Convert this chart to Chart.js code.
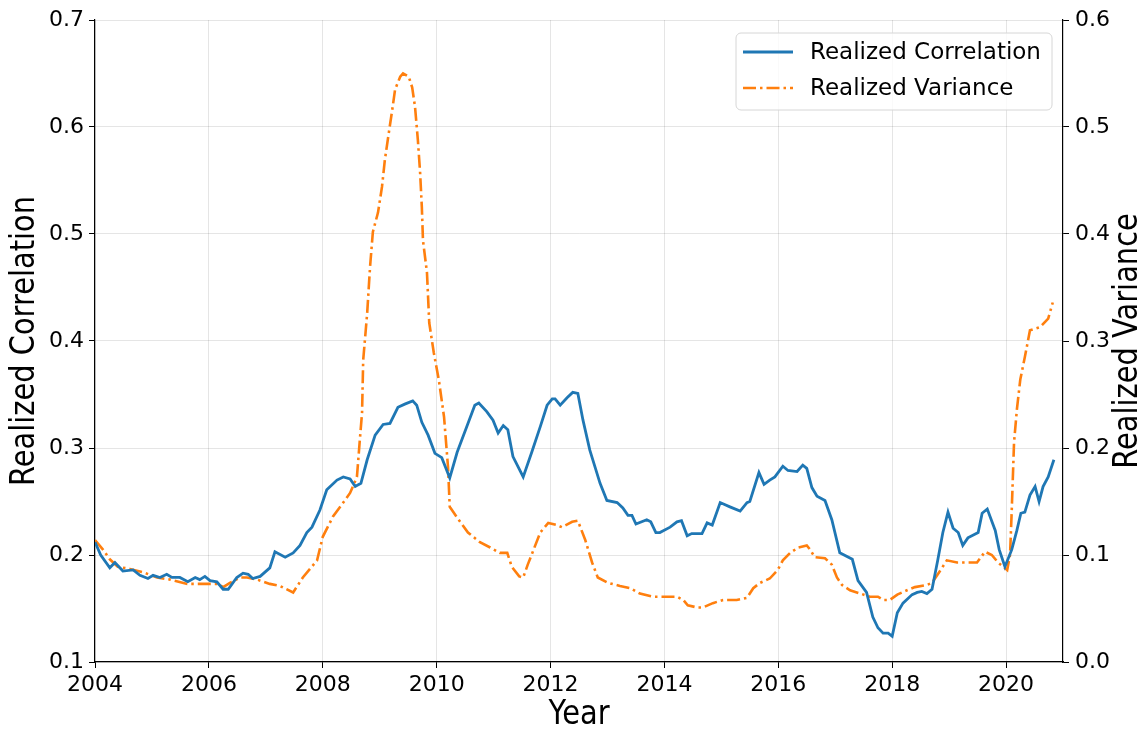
<!DOCTYPE html>
<html>
<head>
<meta charset="utf-8">
<title>Realized Correlation and Realized Variance</title>
<script src="https://cdn.jsdelivr.net/npm/chart.js@4.4.1/dist/chart.umd.min.js"></script>
<style>
  html, body { margin: 0; padding: 0; background: #fff; }
  #chart { display: block; }
</style>
</head>
<body>
<canvas id="chart" width="1146" height="732"></canvas>
<script>
// values (fractional years)
const corrYears = [
    2004.00, 2004.10, 2004.26, 2004.35, 2004.49, 2004.67, 2004.79, 2004.93, 2005.02, 2005.14,
    2005.26, 2005.35, 2005.49, 2005.63, 2005.76, 2005.84, 2005.93, 2006.02, 2006.14, 2006.25,
    2006.34, 2006.49, 2006.60, 2006.69, 2006.77, 2006.90, 2007.07, 2007.16, 2007.34, 2007.48,
    2007.60, 2007.72, 2007.81, 2007.95, 2008.07, 2008.25, 2008.36, 2008.48, 2008.57, 2008.67,
    2008.78, 2008.92, 2009.06, 2009.18, 2009.32, 2009.44, 2009.58, 2009.65, 2009.74, 2009.85,
    2009.97, 2010.09, 2010.23, 2010.36, 2010.53, 2010.67, 2010.74, 2010.88, 2010.99, 2011.08,
    2011.17, 2011.25, 2011.34, 2011.52, 2011.67, 2011.82, 2011.94, 2012.03, 2012.08, 2012.17,
    2012.29, 2012.39, 2012.48, 2012.57, 2012.69, 2012.87, 2012.99, 2013.17, 2013.27, 2013.36,
    2013.43, 2013.50, 2013.69, 2013.76, 2013.85, 2013.92, 2014.10, 2014.22, 2014.30, 2014.40,
    2014.48, 2014.66, 2014.75, 2014.84, 2014.98, 2015.15, 2015.33, 2015.45, 2015.50, 2015.66,
    2015.75, 2015.85, 2015.94, 2016.08, 2016.17, 2016.33, 2016.43, 2016.50, 2016.59, 2016.68,
    2016.82, 2016.94, 2017.08, 2017.30, 2017.40, 2017.55, 2017.66, 2017.75, 2017.84, 2017.93,
    2018.00, 2018.09, 2018.19, 2018.35, 2018.44, 2018.52, 2018.61, 2018.70, 2018.80, 2018.89,
    2018.98, 2019.07, 2019.16, 2019.24, 2019.33, 2019.51, 2019.58, 2019.67, 2019.81, 2019.88,
    2019.98, 2020.10, 2020.19, 2020.26, 2020.33, 2020.42, 2020.51, 2020.58, 2020.65, 2020.74,
    2020.84
];
const corrValues = [
    0.212, 0.200, 0.188, 0.193, 0.185, 0.186, 0.181, 0.178, 0.181, 0.179,
    0.182, 0.179, 0.179, 0.175, 0.179, 0.177, 0.180, 0.176, 0.175, 0.168,
    0.168, 0.179, 0.183, 0.182, 0.178, 0.180, 0.188, 0.203, 0.198, 0.202,
    0.209, 0.221, 0.226, 0.242, 0.261, 0.270, 0.273, 0.271, 0.264, 0.267,
    0.289, 0.312, 0.322, 0.323, 0.338, 0.341, 0.344, 0.340, 0.324, 0.312,
    0.295, 0.291, 0.272, 0.296, 0.320, 0.340, 0.342, 0.334, 0.326, 0.314,
    0.321, 0.317, 0.292, 0.273, 0.296, 0.320, 0.340, 0.346, 0.346, 0.340,
    0.347, 0.352, 0.351, 0.326, 0.298, 0.267, 0.251, 0.249, 0.244, 0.237,
    0.237, 0.229, 0.233, 0.231, 0.221, 0.221, 0.226, 0.231, 0.232, 0.218,
    0.220, 0.220, 0.230, 0.228, 0.249, 0.245, 0.241, 0.249, 0.250, 0.277,
    0.266, 0.270, 0.273, 0.283, 0.279, 0.278, 0.284, 0.281, 0.263, 0.255,
    0.251, 0.233, 0.202, 0.196, 0.176, 0.165, 0.142, 0.132, 0.127, 0.127,
    0.124, 0.146, 0.155, 0.163, 0.165, 0.166, 0.164, 0.168, 0.195, 0.221,
    0.240, 0.225, 0.221, 0.209, 0.216, 0.221, 0.239, 0.243, 0.223, 0.205,
    0.189, 0.205, 0.223, 0.239, 0.240, 0.256, 0.264, 0.250, 0.264, 0.273,
    0.289
];
const varYears = [
    2004.00, 2004.14, 2004.26, 2004.40, 2004.61, 2004.84, 2005.09, 2005.32, 2005.62, 2005.90,
    2006.16, 2006.25, 2006.37, 2006.55, 2006.67, 2006.85, 2007.07, 2007.25, 2007.48, 2007.65,
    2007.90, 2008.00, 2008.18, 2008.36, 2008.48, 2008.60, 2008.65, 2008.69, 2008.71, 2008.78,
    2008.83, 2008.88, 2008.97, 2009.04, 2009.09, 2009.15, 2009.22, 2009.27, 2009.36, 2009.41,
    2009.51, 2009.57, 2009.62, 2009.67, 2009.71, 2009.74, 2009.76, 2009.83, 2009.87, 2009.95,
    2010.04, 2010.13, 2010.20, 2010.23, 2010.36, 2010.55, 2010.76, 2010.94, 2011.11, 2011.24,
    2011.32, 2011.45, 2011.52, 2011.60, 2011.82, 2011.96, 2012.11, 2012.20, 2012.38, 2012.48,
    2012.61, 2012.73, 2012.83, 2013.01, 2013.22, 2013.40, 2013.57, 2013.80, 2013.98, 2014.22,
    2014.33, 2014.41, 2014.57, 2014.68, 2014.85, 2015.03, 2015.27, 2015.45, 2015.56, 2015.68,
    2015.85, 2015.99, 2016.08, 2016.21, 2016.35, 2016.50, 2016.56, 2016.64, 2016.82, 2016.94,
    2017.03, 2017.12, 2017.26, 2017.44, 2017.61, 2017.75, 2017.84, 2017.96, 2018.09, 2018.26,
    2018.40, 2018.61, 2018.70, 2018.79, 2018.96, 2019.14, 2019.31, 2019.49, 2019.63, 2019.75,
    2019.86, 2020.02, 2020.07, 2020.10, 2020.14, 2020.19, 2020.25, 2020.33, 2020.42, 2020.60,
    2020.74, 2020.82
];
const varValues = [
    0.114, 0.105, 0.096, 0.089, 0.087, 0.084, 0.079, 0.077, 0.073, 0.073,
    0.073, 0.070, 0.074, 0.079, 0.079, 0.077, 0.073, 0.071, 0.065, 0.079,
    0.095, 0.117, 0.136, 0.149, 0.158, 0.173, 0.207, 0.233, 0.282, 0.326,
    0.369, 0.402, 0.420, 0.444, 0.469, 0.491, 0.516, 0.535, 0.547, 0.550,
    0.547, 0.537, 0.519, 0.488, 0.457, 0.425, 0.394, 0.364, 0.317, 0.289,
    0.263, 0.229, 0.182, 0.145, 0.135, 0.121, 0.112, 0.107, 0.102, 0.102,
    0.089, 0.080, 0.079, 0.091, 0.121, 0.130, 0.128, 0.126, 0.131, 0.132,
    0.114, 0.093, 0.079, 0.074, 0.071, 0.069, 0.064, 0.061, 0.061, 0.061,
    0.058, 0.053, 0.051, 0.051, 0.055, 0.058, 0.058, 0.060, 0.069, 0.074,
    0.078, 0.086, 0.095, 0.102, 0.107, 0.109, 0.105, 0.098, 0.097, 0.091,
    0.079, 0.072, 0.067, 0.064, 0.061, 0.061, 0.058, 0.058, 0.063, 0.067,
    0.070, 0.072, 0.074, 0.081, 0.095, 0.093, 0.093, 0.093, 0.103, 0.100,
    0.093, 0.086, 0.100, 0.142, 0.205, 0.236, 0.264, 0.285, 0.310, 0.313,
    0.321, 0.336
];
const xTicks = [2004, 2006, 2008, 2010, 2012, 2014, 2016, 2018, 2020];
const corrTicks = [0.1, 0.2, 0.3, 0.4, 0.5, 0.6, 0.7];
const varTicks = [0.0, 0.1, 0.2, 0.3, 0.4, 0.5, 0.6];

const BLUE = '#1f77b4';
const ORANGE = '#ff7f0e';
const VAR_DASH = [13, 4, 2.5, 4];
const tickFont = { family: 'DejaVu Sans', size: 22 };
const gridColor = 'rgba(0,0,0,0.1)';

function pairs(xs, ys) {
    return xs.map((x, i) => ({ x: x, y: ys[i] }));
}
function setTicks(list) {
    return scale => { scale.ticks = list.map(v => ({ value: v })); };
}

// axis titles are a bit condensed in the original, so draw them by hand
function drawTitle(ctx, text, x, y, angle) {
    ctx.save();
    ctx.translate(x, y);
    ctx.rotate(angle);
    ctx.scale(0.85, 1);
    ctx.font = "34px 'DejaVu Sans'";
    ctx.fillStyle = '#000';
    ctx.textAlign = 'center';
    ctx.textBaseline = 'middle';
    ctx.fillText(text, 0, 0);
    ctx.restore();
}

const overlay = {
    id: 'overlay',
    afterDraw(chart) {
        const ctx = chart.ctx;
        const area = chart.chartArea;
        const midY = (area.top + area.bottom) / 2;
        const midX = (area.left + area.right) / 2;

        drawTitle(ctx, 'Realized Correlation', chart.scales.yCorr.left + 25, midY, -Math.PI / 2);
        drawTitle(ctx, 'Realized Variance', chart.scales.yVar.right - 18, midY, -Math.PI / 2);
        drawTitle(ctx, 'Year', midX, chart.scales.x.bottom - 17, 0);

        // legend box, top right inside the plot
        const w = 316, h = 77, r = 5;
        const left = area.right - 327, top = area.top + 13;
        ctx.save();
        ctx.beginPath();
        ctx.moveTo(left + r, top);
        ctx.arcTo(left + w, top, left + w, top + h, r);
        ctx.arcTo(left + w, top + h, left, top + h, r);
        ctx.arcTo(left, top + h, left, top, r);
        ctx.arcTo(left, top, left + w, top, r);
        ctx.closePath();
        ctx.fillStyle = 'rgba(255,255,255,0.8)';
        ctx.fill();
        ctx.strokeStyle = '#d6d6d6';
        ctx.lineWidth = 1;
        ctx.stroke();

        ctx.font = "23px 'DejaVu Sans'";
        ctx.textBaseline = 'middle';
        ctx.textAlign = 'left';
        chart.data.datasets.forEach((ds, i) => {
            const y = top + 19 + i * 36;
            ctx.beginPath();
            ctx.setLineDash(ds.borderDash || []);
            ctx.strokeStyle = ds.borderColor;
            ctx.lineWidth = ds.borderWidth;
            ctx.moveTo(left + 7, y);
            ctx.lineTo(left + 57, y);
            ctx.stroke();
            ctx.setLineDash([]);
            ctx.fillStyle = '#000';
            ctx.fillText(ds.label, left + 74, y + 1);
        });
        ctx.restore();
    }
};

new Chart(document.getElementById('chart'), {
    type: 'line',
    data: {
        datasets: [
            {
                label: 'Realized Correlation',
                data: pairs(corrYears, corrValues),
                yAxisID: 'yCorr',
                borderColor: BLUE,
                borderWidth: 2.8,
                pointRadius: 0,
                tension: 0,
                fill: false
            },
            {
                label: 'Realized Variance',
                data: pairs(varYears, varValues),
                yAxisID: 'yVar',
                borderColor: ORANGE,
                borderWidth: 2.6,
                borderDash: VAR_DASH,
                borderCapStyle: 'butt',
                pointRadius: 0,
                tension: 0,
                fill: false
            }
        ]
    },
    options: {
        responsive: false,
        animation: false,
        devicePixelRatio: 1,
        layout: { padding: { top: 20, left: 0, right: 0, bottom: 0 } },
        plugins: { legend: { display: false }, tooltip: { enabled: false } },
        scales: {
            x: {
                type: 'linear',
                min: 2004,
                max: 2021,
                afterBuildTicks: setTicks(xTicks),
                afterFit: s => { s.height = 70; },
                ticks: { font: tickFont, color: '#000', padding: 4, maxRotation: 0, callback: v => String(v) },
                grid: { color: gridColor, lineWidth: 1, tickLength: 6, tickColor: '#000' },
                border: { color: '#000', width: 1.2 }
            },
            yCorr: {
                type: 'linear',
                position: 'left',
                min: 0.1,
                max: 0.7,
                afterBuildTicks: setTicks(corrTicks),
                afterFit: s => { s.width = 95; },
                ticks: { font: tickFont, color: '#000', padding: 5, callback: v => v.toFixed(1) },
                grid: { color: gridColor, lineWidth: 1, tickLength: 6, tickColor: '#000' },
                border: { color: '#000', width: 1.2 }
            },
            yVar: {
                type: 'linear',
                position: 'right',
                min: 0,
                max: 0.6,
                afterBuildTicks: setTicks(varTicks),
                afterFit: s => { s.width = 83; },
                ticks: { font: tickFont, color: '#000', padding: 6, callback: v => v.toFixed(1) },
                grid: { drawOnChartArea: false, tickLength: 6, tickColor: '#000' },
                border: { color: '#000', width: 1.2 }
            }
        }
    },
    plugins: [overlay]
});
</script>
</body>
</html>
